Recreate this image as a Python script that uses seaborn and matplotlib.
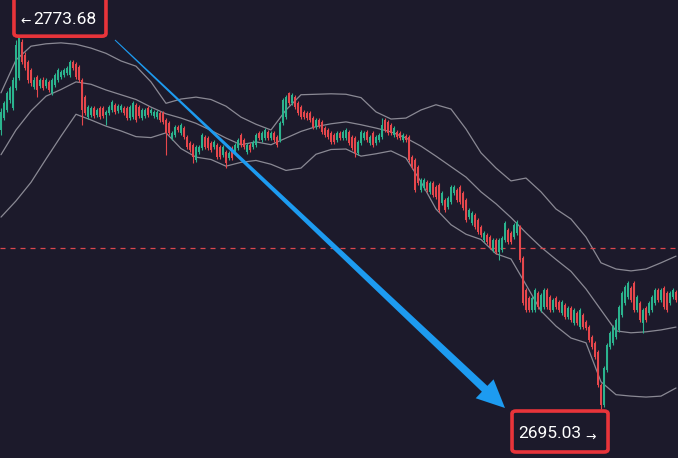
import numpy as np
import pandas as pd
import matplotlib.pyplot as plt
import seaborn as sns
from matplotlib.patches import FancyBboxPatch, Polygon

# Velas (OHLC), da esquerda para a direita
open_ = [
    2753.7, 2756.2, 2757.9, 2760.0, 2758.3, 2762.5, 2764.6, 2772.2, 2769.5, 2768.0,
    2766.3, 2762.7, 2764.8, 2762.9, 2764.2, 2762.9, 2763.8, 2761.5, 2763.2, 2764.2,
    2764.8, 2765.3, 2765.7, 2765.3, 2768.0, 2767.6, 2766.9, 2764.2, 2760.6, 2756.4,
    2756.9, 2758.3, 2756.9, 2758.3, 2758.3, 2756.9, 2757.3, 2757.9, 2759.0, 2757.7,
    2757.9, 2758.3, 2758.3, 2756.2, 2756.4, 2759.0, 2758.5, 2756.2, 2756.6, 2758.3,
    2757.3, 2756.6, 2756.4, 2757.3, 2757.3, 2755.8, 2755.2, 2752.0, 2752.7, 2754.3,
    2753.1, 2754.1, 2752.2, 2751.0, 2750.6, 2747.4, 2749.1, 2749.9, 2752.2, 2752.0,
    2751.0, 2750.1, 2750.6, 2750.1, 2748.5, 2749.1, 2747.8, 2749.9, 2749.1, 2749.9,
    2752.7, 2751.6, 2749.1, 2750.6, 2750.1, 2750.6, 2753.1, 2751.6, 2752.0, 2753.3,
    2752.0, 2753.1, 2752.2, 2751.6, 2755.2, 2756.4, 2761.5, 2759.4, 2760.6, 2759.4,
    2758.5, 2757.5, 2757.3, 2757.3, 2756.2, 2754.3, 2755.8, 2755.4, 2754.1, 2753.7,
    2753.1, 2752.7, 2751.6, 2753.1, 2752.0, 2752.0, 2753.3, 2752.2, 2752.0, 2748.9,
    2751.0, 2752.0, 2753.3, 2751.0, 2753.1, 2751.0, 2751.6, 2752.2, 2755.8, 2755.4,
    2754.8, 2752.7, 2753.3, 2753.1, 2751.6, 2752.4, 2752.2, 2748.0, 2747.4, 2745.9,
    2741.1, 2741.5, 2742.8, 2740.7, 2742.6, 2741.7, 2742.2, 2738.4, 2739.0, 2737.5,
    2738.6, 2740.5, 2741.1, 2741.7, 2740.5, 2739.0, 2735.4, 2734.2, 2735.9, 2734.8,
    2733.3, 2730.6, 2731.7, 2731.2, 2728.5, 2730.6, 2728.1, 2728.5, 2730.6, 2732.7,
    2732.1, 2731.2, 2732.1, 2733.3, 2726.8, 2720.1, 2718.4, 2715.9, 2715.9, 2719.5,
    2715.9, 2716.5, 2720.1, 2718.6, 2715.9, 2718.4, 2717.6, 2715.3, 2717.0, 2714.4,
    2716.3, 2713.2, 2715.3, 2712.3, 2714.9, 2713.4, 2712.3, 2710.2, 2709.0, 2707.1,
    2700.2, 2696.0, 2703.3, 2708.1, 2709.0, 2710.2, 2711.7, 2714.9, 2717.4, 2718.6,
    2720.5, 2721.6, 2715.9, 2717.4, 2713.2, 2716.3, 2715.3, 2715.9, 2717.4, 2720.1,
    2718.0, 2720.5, 2719.5, 2717.4, 2718.6, 2719.7,
]
close = [
    2757.5, 2759.4, 2761.5, 2762.5, 2764.2, 2771.6, 2773.0, 2768.0, 2766.7, 2764.2,
    2763.6, 2764.2, 2762.1, 2764.2, 2762.5, 2764.2, 2762.1, 2764.2, 2765.3, 2766.3,
    2765.9, 2766.3, 2766.7, 2768.0, 2766.7, 2764.8, 2764.2, 2757.9, 2757.3, 2758.5,
    2758.3, 2756.6, 2757.9, 2756.4, 2756.6, 2757.5, 2758.5, 2759.6, 2757.5, 2758.7,
    2758.7, 2757.3, 2756.2, 2758.5, 2759.4, 2755.8, 2756.6, 2757.9, 2757.9, 2756.9,
    2757.9, 2757.5, 2757.5, 2755.8, 2755.4, 2753.1, 2753.1, 2753.1, 2754.3, 2753.7,
    2754.8, 2752.2, 2750.1, 2749.5, 2748.0, 2750.1, 2750.1, 2752.7, 2750.1, 2749.9,
    2749.5, 2751.2, 2748.0, 2748.0, 2750.1, 2746.8, 2748.9, 2747.8, 2750.6, 2751.6,
    2750.6, 2750.1, 2750.6, 2749.5, 2751.2, 2752.7, 2752.0, 2753.1, 2753.7, 2752.0,
    2753.1, 2751.6, 2750.6, 2755.2, 2760.0, 2760.6, 2759.4, 2761.1, 2758.5, 2757.3,
    2756.4, 2756.4, 2756.2, 2755.8, 2754.3, 2755.8, 2754.5, 2753.3, 2752.7, 2752.2,
    2751.2, 2751.2, 2753.1, 2752.0, 2753.3, 2753.7, 2751.0, 2749.9, 2748.9, 2751.2,
    2753.3, 2753.1, 2751.6, 2752.2, 2750.6, 2752.2, 2752.7, 2754.8, 2753.7, 2753.1,
    2753.1, 2754.1, 2752.2, 2752.0, 2752.7, 2751.6, 2747.4, 2745.9, 2741.1, 2742.6,
    2743.2, 2743.2, 2741.1, 2742.6, 2740.1, 2739.6, 2736.9, 2740.5, 2736.9, 2739.4,
    2741.7, 2741.7, 2739.0, 2738.6, 2737.3, 2734.8, 2736.9, 2736.3, 2733.3, 2732.3,
    2731.7, 2732.1, 2730.2, 2729.1, 2730.6, 2728.1, 2730.6, 2731.0, 2734.2, 2730.2,
    2730.2, 2733.8, 2734.4, 2726.4, 2717.4, 2715.9, 2715.9, 2718.4, 2720.1, 2716.5,
    2719.1, 2720.1, 2716.5, 2715.9, 2718.0, 2716.5, 2715.9, 2717.6, 2714.4, 2716.3,
    2713.8, 2715.9, 2713.2, 2715.9, 2712.3, 2712.1, 2709.6, 2708.1, 2706.0, 2700.2,
    2696.0, 2703.7, 2708.6, 2711.1, 2712.3, 2713.8, 2716.5, 2719.5, 2720.7, 2721.6,
    2718.0, 2715.9, 2718.6, 2713.8, 2715.9, 2713.8, 2717.4, 2718.6, 2720.1, 2718.0,
    2720.1, 2716.5, 2715.9, 2719.5, 2720.1, 2718.0,
]
high = [
    2758.3, 2759.8, 2761.9, 2763.0, 2764.8, 2772.6, 2773.68, 2772.8, 2770.0, 2768.4,
    2766.7, 2764.8, 2765.2, 2764.6, 2764.8, 2764.6, 2764.2, 2764.6, 2765.7, 2766.7,
    2766.3, 2766.7, 2767.1, 2768.4, 2768.4, 2768.0, 2767.3, 2764.6, 2761.0, 2758.9,
    2758.7, 2758.7, 2758.3, 2758.7, 2758.7, 2757.9, 2758.9, 2760.0, 2759.4, 2759.1,
    2759.1, 2758.7, 2758.7, 2758.9, 2759.8, 2759.4, 2758.9, 2758.3, 2758.3, 2758.7,
    2758.3, 2757.9, 2757.9, 2757.7, 2757.7, 2756.2, 2755.6, 2753.5, 2754.7, 2754.7,
    2755.2, 2754.5, 2752.6, 2751.4, 2751.0, 2750.5, 2750.5, 2753.1, 2752.6, 2752.4,
    2751.4, 2751.6, 2751.0, 2750.5, 2750.5, 2749.5, 2749.3, 2750.3, 2751.0, 2752.0,
    2753.1, 2752.0, 2751.0, 2751.0, 2751.6, 2753.1, 2753.5, 2753.5, 2754.1, 2753.7,
    2753.5, 2753.5, 2752.6, 2755.6, 2760.4, 2761.0, 2761.7, 2761.5, 2761.0, 2759.8,
    2758.9, 2757.9, 2757.7, 2757.7, 2756.6, 2756.2, 2756.2, 2755.8, 2754.5, 2754.1,
    2753.5, 2753.1, 2753.5, 2753.5, 2753.7, 2754.1, 2753.7, 2752.6, 2752.4, 2751.6,
    2753.7, 2753.5, 2753.7, 2752.6, 2753.5, 2752.6, 2753.1, 2756.2, 2756.2, 2755.8,
    2755.2, 2754.5, 2753.7, 2753.5, 2753.1, 2752.8, 2752.6, 2748.4, 2747.8, 2746.3,
    2743.6, 2743.6, 2743.2, 2743.0, 2743.0, 2742.1, 2742.6, 2740.9, 2739.4, 2739.8,
    2742.1, 2742.1, 2741.5, 2742.1, 2740.9, 2739.4, 2737.3, 2736.7, 2736.3, 2735.2,
    2733.7, 2732.5, 2732.1, 2731.6, 2731.0, 2731.0, 2731.0, 2731.4, 2734.6, 2733.1,
    2732.5, 2734.2, 2734.8, 2733.7, 2727.2, 2720.5, 2718.8, 2718.8, 2720.5, 2719.9,
    2719.5, 2720.5, 2720.5, 2719.0, 2718.4, 2718.8, 2718.0, 2718.0, 2717.4, 2716.7,
    2716.7, 2716.3, 2715.7, 2716.3, 2715.3, 2713.8, 2712.7, 2710.6, 2709.4, 2707.5,
    2700.6, 2704.1, 2709.0, 2711.5, 2712.7, 2714.2, 2716.9, 2719.9, 2721.1, 2722.0,
    2720.9, 2722.0, 2719.0, 2717.8, 2716.3, 2716.7, 2717.8, 2719.0, 2720.5, 2720.5,
    2720.5, 2720.9, 2719.9, 2719.9, 2720.5, 2720.1,
]
low = [
    2752.7, 2755.8, 2757.5, 2759.4, 2757.9, 2762.1, 2764.2, 2767.6, 2766.3, 2763.6,
    2763.0, 2762.3, 2760.6, 2762.5, 2762.1, 2762.5, 2761.7, 2761.1, 2762.7, 2763.8,
    2764.4, 2764.9, 2765.3, 2764.9, 2766.3, 2764.4, 2763.8, 2754.8, 2756.9, 2756.0,
    2756.5, 2756.2, 2756.5, 2756.0, 2756.2, 2754.8, 2756.9, 2757.5, 2757.1, 2757.3,
    2757.5, 2756.9, 2755.8, 2755.8, 2756.0, 2755.4, 2756.2, 2755.8, 2756.2, 2756.5,
    2756.9, 2756.2, 2756.0, 2755.4, 2755.0, 2748.5, 2752.7, 2751.6, 2752.3, 2753.3,
    2752.7, 2751.8, 2749.7, 2749.1, 2746.8, 2747.0, 2748.7, 2749.5, 2749.7, 2749.5,
    2749.1, 2749.7, 2747.6, 2747.6, 2748.1, 2745.7, 2747.4, 2747.4, 2748.7, 2749.5,
    2750.2, 2749.7, 2748.7, 2749.1, 2749.7, 2750.2, 2751.6, 2751.2, 2751.6, 2751.6,
    2751.6, 2751.2, 2750.2, 2751.2, 2754.8, 2756.0, 2759.0, 2759.0, 2758.1, 2756.9,
    2756.0, 2756.0, 2755.8, 2755.4, 2753.9, 2753.9, 2754.1, 2752.9, 2752.3, 2751.8,
    2750.8, 2750.8, 2751.2, 2751.6, 2751.6, 2751.6, 2750.6, 2749.5, 2748.0, 2748.5,
    2750.6, 2751.6, 2751.2, 2750.6, 2750.2, 2750.6, 2751.2, 2751.8, 2753.3, 2752.7,
    2752.7, 2752.3, 2751.8, 2751.6, 2751.2, 2751.2, 2747.0, 2745.5, 2740.7, 2742.2,
    2740.7, 2741.1, 2740.7, 2740.3, 2739.7, 2739.2, 2736.5, 2738.0, 2736.5, 2737.1,
    2738.2, 2740.1, 2738.6, 2738.2, 2736.9, 2734.4, 2735.0, 2733.8, 2732.9, 2731.9,
    2731.3, 2730.2, 2729.8, 2728.7, 2728.1, 2727.7, 2726.4, 2728.1, 2730.2, 2729.8,
    2729.8, 2730.8, 2731.7, 2726.0, 2717.0, 2715.5, 2715.5, 2715.5, 2715.5, 2716.1,
    2715.5, 2716.1, 2716.1, 2715.5, 2715.5, 2716.1, 2715.5, 2714.9, 2714.0, 2714.0,
    2713.4, 2712.8, 2712.8, 2711.9, 2711.9, 2711.7, 2709.2, 2707.7, 2705.6, 2699.8,
    2695.03, 2695.6, 2702.9, 2707.7, 2708.6, 2709.8, 2711.3, 2714.5, 2717.0, 2718.2,
    2717.6, 2715.5, 2715.5, 2713.4, 2711.1, 2713.4, 2714.9, 2715.5, 2717.0, 2717.6,
    2717.6, 2716.1, 2715.5, 2717.0, 2718.2, 2717.6,
]

# Bandas de Bollinger, lidas a cada 5 velas
band_step = 5
upper = [
    2761.5, 2768.4, 2771.3, 2771.8, 2772.0, 2771.7, 2770.9, 2769.8, 2768.2, 2767.1,
    2763.8, 2759.3, 2760.2, 2760.6, 2760.1, 2758.7, 2756.4, 2754.9, 2753.7, 2757.9,
    2761.1, 2761.2, 2761.3, 2761.2, 2760.5, 2757.5, 2756.0, 2756.2, 2757.9, 2759.0,
    2758.1, 2753.9, 2748.9, 2745.7, 2743.0, 2743.6, 2740.7, 2737.1, 2735.0, 2731.2,
    2725.8, 2724.5, 2724.1, 2724.5, 2725.8, 2727.2,
]
middle = [
    2748.5, 2753.7, 2757.7, 2760.8, 2762.2, 2763.8, 2763.3, 2762.1, 2761.1, 2760.1,
    2758.5, 2757.1, 2756.2, 2755.1, 2753.6, 2752.0, 2750.6, 2751.2, 2750.6, 2752.0,
    2753.4, 2754.4, 2755.0, 2755.4, 2754.8, 2754.1, 2753.3, 2752.0, 2750.3, 2748.2,
    2746.0, 2743.8, 2740.7, 2738.2, 2735.3, 2732.1, 2729.1, 2726.5, 2724.0, 2720.3,
    2715.9, 2711.5, 2711.1, 2711.3, 2711.7, 2712.3,
]
lower = [
    2735.4, 2738.8, 2742.7, 2747.6, 2752.4, 2757.0, 2755.8, 2754.5, 2753.5, 2752.3,
    2752.1, 2753.1, 2749.8, 2748.0, 2747.5, 2746.1, 2746.9, 2747.3, 2746.5, 2745.2,
    2745.7, 2748.6, 2749.6, 2749.7, 2748.2, 2748.7, 2749.3, 2747.8, 2742.8, 2737.1,
    2733.8, 2731.8, 2730.7, 2727.7, 2726.6, 2721.2, 2715.7, 2712.5, 2710.0, 2709.0,
    2700.8, 2698.1, 2697.8, 2697.6, 2697.8, 2699.5,
]

price_line = 2728.9
high_label = '2773.68'
low_label = '2695.03'
arrow_start = (38, 2772.6)   # (vela, preço)
arrow_end = (168, 2695.3)

bg = '#1c1a2b'
green = '#2bb38e'
red = '#e6474c'
band_color = '#8a8994'
box_red = '#e8343a'
blue = '#1d9bf0'

sns.set_theme(style='dark')
plt.rcParams['font.family'] = ['Roboto', 'DejaVu Sans']

df = pd.DataFrame({'open': open_, 'close': close, 'high': high, 'low': low})
df['idx'] = np.arange(len(df))
df['color'] = np.where(df['close'] >= df['open'], green, red)

fig = plt.figure(figsize=(6.78, 4.58), dpi=100, facecolor=bg)
ax = fig.add_axes([0, 0, 1, 1])
ax.set_facecolor(bg)

# Bandas
bands = pd.DataFrame({'idx': np.arange(0, len(df), band_step)[:len(upper)],
                      'upper': upper, 'middle': middle, 'lower': lower})
bands = bands.melt('idx', var_name='band', value_name='price')
sns.lineplot(data=bands, x='idx', y='price', units='band', estimator=None,
             color=band_color, lw=0.9, ax=ax, legend=False, zorder=1)

# Linha de preço tracejada
ax.axhline(price_line, color='#d9474d', lw=0.9, ls=(0, (4, 4)), zorder=1)

# Velas
ax.vlines(df['idx'], df['low'], df['high'], colors=df['color'], lw=0.8, zorder=2)
body = (df['close'] - df['open']).abs().clip(lower=0.4)
ax.bar(df['idx'], body, bottom=df[['open', 'close']].min(axis=1),
       width=0.78, color=df['color'], lw=0, zorder=3)

ax.set_xlim(-0.33, len(df) - 0.33)
ax.set_ylim(2684.8, 2781.0)
ax.axis('off')

# Seta azul afinando no início
p0 = ax.transData.transform(arrow_start)
p1 = ax.transData.transform(arrow_end)
d = (p1 - p0) / np.linalg.norm(p1 - p0)
n = np.array([-d[1], d[0]])
head_len, head_w, w0, w1 = 28, 26, 1.0, 8.0
neck = p1 - d * head_len
pts = [p0 + n * w0 / 2, neck + n * w1 / 2, neck + n * head_w / 2, p1,
       neck - n * head_w / 2, neck - n * w1 / 2, p0 - n * w0 / 2]
ax.add_patch(Polygon(pts, closed=True, transform=None, fc=blue, ec='none', zorder=5))

# Caixas de máxima e mínima
def label_box(x0, y0, w, h):
    ax.add_patch(FancyBboxPatch((x0, y0), w, h, boxstyle='round,pad=0,rounding_size=0.006',
                                transform=ax.transAxes, fc=bg, ec=box_red, lw=2.6, zorder=6))

label_box(0.0206, 0.921, 0.1357, 0.085)
ax.text(0.0385, 0.953, '←', transform=ax.transAxes, color='white', fontsize=9,
        ha='center', va='center', zorder=7)
ax.text(0.0955, 0.958, high_label, transform=ax.transAxes, color='white', fontsize=12.5,
        ha='center', va='center', zorder=7)

label_box(0.7552, 0.0131, 0.1416, 0.0895)
ax.text(0.8115, 0.0535, low_label, transform=ax.transAxes, color='white', fontsize=12.5,
        ha='center', va='center', zorder=7)
ax.text(0.8715, 0.046, '→', transform=ax.transAxes, color='white', fontsize=9,
        ha='center', va='center', zorder=7)

fig.savefig('out.png', dpi=100, facecolor=bg)
